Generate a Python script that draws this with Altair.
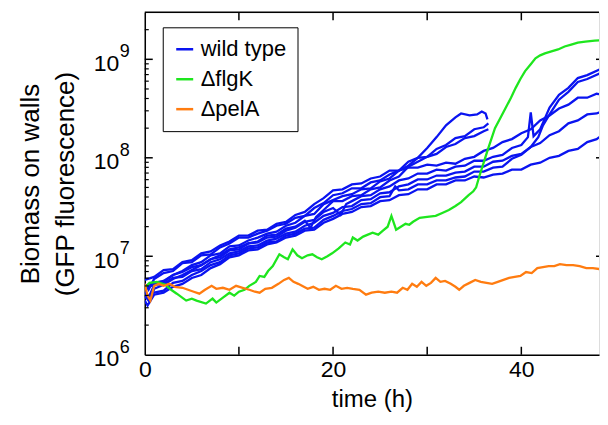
import altair as alt
import pandas as pd

# ---- data: (time h, log10 biomass) ----
WT1 = [(0,6.72),(0.4,6.66),(1,6.77),(2,6.83),(3,6.85),(4,6.93),(5,6.94),(6,7.01),(7,7.02),(8,7.09),(9,7.13),(10,7.19),(11,7.19),(12,7.23),(13,7.26),(14,7.31),(15,7.33),(16,7.39),(17,7.41),(18,7.49),(19,7.54),(20,7.62),(21,7.64),(22,7.69),(23,7.69),(24,7.75),(25,7.77),(26,7.83),(27,7.87),(28,7.96),(29,8.0),(30,8.1),(31,8.21),(32,8.33),(33,8.41),(33.6,8.45),(34.5,8.43),(35.3,8.44),(35.8,8.47),(36.2,8.45),(36.4,8.39)]
WT2 = [(0,6.64),(0.4,6.58),(1,6.71),(2,6.74),(3,6.81),(4,6.85),(5,6.91),(6,6.94),(7,7.01),(8,7.03),(9,7.1),(10,7.11),(11,7.16),(12,7.19),(13,7.23),(14,7.25),(15,7.31),(16,7.34),(17,7.41),(18,7.43),(19,7.53),(20,7.57),(21,7.61),(22,7.63),(23,7.68),(24,7.69),(25,7.76),(26,7.79),(27,7.87),(28,7.92),(29,8.0),(30,8.01),(31,8.09),(32,8.13),(33,8.2),(34,8.22),(35,8.29),(36,8.31),(36.5,8.35)]
WT3 = [(0,6.6),(0.5,6.54),(1,6.67),(2,6.71),(3,6.77),(4,6.81),(5,6.86),(6,6.91),(7,6.97),(8,7.01),(9,7.07),(10,7.09),(11,7.13),(12,7.15),(13,7.21),(14,7.22),(15,7.28),(16,7.3),(17,7.36),(17.6,7.29),(18.2,7.4),(19,7.47),(20,7.56),(21,7.56),(22,7.61),(23,7.62),(24,7.68),(25,7.7),(26,7.77),(27,7.81),(28,7.91),(29,7.96),(30,8.01),(31,8.04),(32,8.11),(33,8.14),(34,8.2),(35,8.22),(36,8.27),(36.5,8.29)]
WT4 = [(0,6.7),(1,6.73),(2,6.75),(3,6.81),(4,6.84),(5,6.89),(6,6.91),(7,6.97),(8,6.99),(9,7.06),(10,7.07),(11,7.13),(12,7.14),(13,7.19),(14,7.2),(15,7.26),(16,7.29),(17,7.35),(18,7.37),(19,7.45),(20,7.49),(20.8,7.42),(21.4,7.53),(22,7.56),(23,7.61),(24,7.62),(25,7.68),(26,7.71),(27,7.77),(28,7.79),(29,7.84),(30,7.84),(31,7.88),(32,7.87),(33,7.91),(34,7.92),(35,7.97),(36,7.97),(37,8.01),(38,8.03),(39,8.1),(40,8.13),(40.7,8.21),(41,8.46),(41.3,8.22),(42,8.29),(42.5,8.4),(43,8.51),(44,8.64),(45,8.71),(46,8.81),(47,8.84),(48.4,8.9)]
WT5 = [(0,6.58),(1,6.63),(2,6.65),(3,6.73),(4,6.75),(5,6.81),(6,6.85),(7,6.91),(8,6.94),(9,7.01),(10,7.03),(11,7.08),(12,7.09),(13,7.14),(14,7.15),(15,7.21),(16,7.23),(17,7.28),(18,7.29),(19,7.37),(20,7.41),(21,7.46),(22,7.48),(23,7.53),(24,7.54),(25,7.6),(26,7.61),(26.6,7.71),(27,7.67),(28,7.68),(29,7.73),(30,7.73),(31,7.77),(32,7.77),(33,7.8),(34,7.81),(35,7.86),(36,7.86),(37,7.9),(38,7.91),(39,7.99),(40,8.03),(41,8.11),(41.8,8.21),(42.3,8.33),(43,8.44),(44,8.59),(45,8.67),(46,8.77),(47,8.8),(48.4,8.86)]
WT6 = [(0,6.76),(1,6.79),(2,6.86),(3,6.87),(4,6.94),(5,6.96),(6,7.03),(7,7.05),(8,7.11),(9,7.15),(10,7.21),(11,7.21),(12,7.26),(13,7.27),(14,7.33),(15,7.35),(16,7.42),(17,7.45),(18,7.53),(19,7.59),(20,7.67),(21,7.68),(22,7.73),(23,7.74),(24,7.79),(25,7.81),(26,7.87),(27,7.87),(28,7.9),(29,7.9),(30,7.93),(31,7.92),(32,7.95),(33,7.94),(34,7.99),(35,8.01),(36,8.07),(37,8.1),(38,8.16),(39,8.19),(40,8.25),(41,8.29),(42,8.38),(43,8.43),(44,8.5),(45,8.54),(46,8.61),(47,8.61),(48,8.65),(49,8.64)]
WT7 = [(0,6.68),(1,6.71),(2,6.72),(3,6.78),(4,6.79),(5,6.85),(6,6.87),(7,6.94),(8,6.97),(9,7.03),(10,7.05),(11,7.1),(12,7.11),(13,7.16),(14,7.18),(15,7.23),(16,7.25),(17,7.31),(18,7.34),(19,7.41),(20,7.44),(21,7.5),(22,7.51),(23,7.57),(24,7.58),(25,7.64),(26,7.65),(27,7.71),(28,7.73),(29,7.78),(30,7.78),(31,7.82),(32,7.82),(33,7.85),(34,7.86),(35,7.91),(36,7.91),(37,7.96),(38,7.97),(39,8.02),(40,8.04),(41,8.11),(42,8.15),(43,8.23),(44,8.27),(45,8.35),(46,8.38),(47,8.44),(48,8.45),(49,8.49)]
WT8 = [(0,6.55),(0.3,6.5),(1,6.61),(2,6.63),(3,6.69),(4,6.72),(5,6.78),(6,6.81),(7,6.88),(8,6.92),(9,6.99),(10,7.01),(11,7.06),(12,7.07),(13,7.12),(14,7.14),(15,7.19),(16,7.21),(17,7.26),(18,7.27),(19,7.34),(20,7.38),(21,7.43),(22,7.45),(23,7.5),(24,7.51),(25,7.56),(26,7.57),(27,7.62),(28,7.63),(29,7.68),(30,7.68),(31,7.73),(32,7.73),(33,7.77),(34,7.77),(35,7.81),(36,7.8),(37,7.83),(38,7.84),(39,7.88),(40,7.88),(41,7.93),(42,7.95),(43,8.0),(44,8.02),(45,8.07),(46,8.09),(47,8.16),(48,8.19),(49,8.26)]

FLGK = [(0,6.68),(0.5,6.73),(1.3,6.74),(2.2,6.71),(2.8,6.66),(3.4,6.62),(4.4,6.55),(5.0,6.57),(5.5,6.55),(6.5,6.52),(7.2,6.57),(7.6,6.53),(8.3,6.58),(9.0,6.63),(9.5,6.6),(10,6.64),(10.6,6.66),(11.1,6.70),(11.8,6.74),(12.2,6.8),(12.7,6.79),(13.1,6.85),(13.6,6.9),(14.3,7.02),(14.8,6.99),(15.2,6.97),(15.7,7.07),(16.2,7.01),(16.7,6.98),(17.3,7.01),(17.8,7.02),(18.3,6.99),(18.8,6.97),(19.4,7.0),(19.9,7.03),(20.6,7.08),(21.3,7.14),(21.8,7.12),(22.1,7.19),(22.6,7.16),(23.2,7.2),(23.7,7.22),(24.2,7.24),(24.8,7.22),(25.3,7.26),(25.8,7.3),(26.2,7.41),(26.7,7.27),(27.2,7.3),(27.7,7.33),(28.1,7.32),(28.5,7.35),(29.2,7.39),(30.0,7.4),(30.9,7.41),(31.6,7.44),(32.3,7.47),(33.0,7.51),(33.6,7.55),(34.4,7.62),(34.9,7.66),(35.2,7.7),(35.5,7.8),(36.0,7.95),(36.5,8.1),(37.2,8.3),(37.8,8.41),(38.3,8.5),(38.9,8.61),(39.4,8.71),(39.9,8.8),(40.4,8.88),(41.0,8.95),(41.5,9.01),(42.0,9.04),(42.5,9.06),(43.2,9.08),(43.9,9.1),(44.6,9.13),(45.3,9.15),(46.0,9.17),(46.8,9.18),(47.8,9.19),(49.2,9.2)]

PELA = [(0,6.72),(0.3,6.6),(0.6,6.55),(1.0,6.7),(1.5,6.72),(2.0,6.7),(2.6,6.72),(3.2,6.69),(4.0,6.68),(4.6,6.66),(5.2,6.64),(5.8,6.62),(6.4,6.66),(7.1,6.7),(7.6,6.67),(8.3,6.68),(9.0,6.66),(9.7,6.7),(10.4,6.68),(11.1,6.66),(11.7,6.64),(12.2,6.63),(12.8,6.67),(13.5,6.68),(14.2,6.72),(14.8,6.76),(15.3,6.78),(15.8,6.74),(16.3,6.72),(16.7,6.7),(17.3,6.67),(17.9,6.69),(18.5,6.66),(19.1,6.67),(19.7,6.66),(20.3,6.7),(20.9,6.67),(21.5,6.68),(22.1,6.67),(22.8,6.66),(23.5,6.61),(24.1,6.63),(24.8,6.64),(25.5,6.63),(26.2,6.64),(26.8,6.63),(27.4,6.68),(27.9,6.66),(28.4,6.72),(28.9,6.69),(29.4,6.74),(29.9,6.7),(30.4,6.73),(30.9,6.78),(31.4,6.74),(31.9,6.75),(32.5,6.72),(33.0,6.69),(33.4,6.66),(33.9,6.7),(34.5,6.73),(35.1,6.76),(35.7,6.74),(36.3,6.73),(36.9,6.72),(37.5,6.74),(38.1,6.76),(38.7,6.78),(39.3,6.79),(39.9,6.8),(40.5,6.84),(41.1,6.83),(41.7,6.88),(42.3,6.89),(42.9,6.9),(43.5,6.9),(44.1,6.92),(44.8,6.91),(45.5,6.91),(46.2,6.9),(46.9,6.88),(47.6,6.88),(48.3,6.87),(49.2,6.86)]

STRAINS = ["wild type", "\u0394flgK", "\u0394pelA"]
COLORS = ["#0a14f0", "#1ee61e", "#ff7c10"]

X_TICKS = [10, 20, 30, 40]
X_LABELS = [0, 20, 40]
Y_DECADES = [1e6, 1e7, 1e8, 1e9]
Y_EXPONENTS = ["6", "7", "8", "9"]
Y_MINOR = [m * 10 ** k for k in (6, 7, 8) for m in range(2, 10)] + [2e9]

series = [("wt1", STRAINS[0], WT1), ("wt2", STRAINS[0], WT2), ("wt3", STRAINS[0], WT3),
          ("wt4", STRAINS[0], WT4), ("wt5", STRAINS[0], WT5), ("wt6", STRAINS[0], WT6),
          ("wt7", STRAINS[0], WT7), ("wt8", STRAINS[0], WT8),
          ("flgk", STRAINS[1], FLGK), ("pela", STRAINS[2], PELA)]
rows = []
for rep, strain, pts in series:
    for i, (t, lv) in enumerate(pts):
        rows.append({"rep": rep, "strain": strain, "t": t, "v": 10 ** lv, "i": i})
df = pd.DataFrame(rows)

W, H = 455, 343
FONT = "Liberation Sans"
xs = alt.Scale(domain=[0, 48.25], nice=False, zero=False)
ys = alt.Scale(type="log", domain=[1e6, 3e9], nice=False)

XAX = alt.Axis(
    values=X_LABELS, ticks=False, grid=False, domainColor="black", domainWidth=1.5,
    labelFontSize=23, labelPadding=4, labelColor="black", labelFlush=False, labelFont=FONT,
    title="time (h)", titleFontSize=24, titleFontWeight="normal", titlePadding=6,
    titleColor="black", titleFont=FONT)
YAX = alt.Axis(
    values=Y_DECADES, labelExpr="'10'", ticks=False, grid=False, domainColor="black",
    domainWidth=1.5, labelFontSize=23, labelPadding=26, labelColor="black", labelOffset=4,
    labelFont=FONT, title=["Biomass on walls", "(GFP fluorescence)"], titleFontSize=26,
    titleFontWeight="normal", titleLineHeight=35, titlePadding=15, titleColor="black",
    titleFont=FONT)

X = alt.X("t:Q", scale=xs, axis=XAX)
Y = alt.Y("v:Q", scale=ys, axis=YAX)

lines = alt.Chart(df).mark_line(strokeWidth=2.3, clip=True).encode(
    x=X, y=Y,
    color=alt.Color("strain:N", scale=alt.Scale(domain=STRAINS, range=COLORS),
                    legend=alt.Legend(title=None, orient="none", legendX=18, legendY=15,
                                      strokeColor="black", fillColor="white", padding=11,
                                      symbolType="stroke", symbolSize=289, symbolStrokeWidth=2.5,
                                      labelFontSize=22, labelOffset=5, rowPadding=8,
                                      labelFont=FONT, labelColor="black")),
    detail="rep:N",
    order="i:Q",
)

xt = pd.DataFrame({"t": X_TICKS})
ymaj = pd.DataFrame({"v": Y_DECADES[1:]})
ymin = pd.DataFrame({"v": Y_MINOR})
ex = pd.DataFrame({"v": Y_DECADES, "e": Y_EXPONENTS})

tick_style = dict(color="black", strokeWidth=1.5)
bx = alt.Chart(xt).mark_rule(**tick_style).encode(x=X, y=alt.value(H), y2=alt.value(H - 8))
tx = alt.Chart(xt).mark_rule(**tick_style).encode(x=X, y=alt.value(0), y2=alt.value(8))
ly = alt.Chart(ymaj).mark_rule(**tick_style).encode(y=Y, x=alt.value(0), x2=alt.value(8))
lym = alt.Chart(ymin).mark_rule(color="black", strokeWidth=1.2).encode(
    y=Y, x=alt.value(0), x2=alt.value(4))
ry = alt.Chart(ymaj).mark_rule(**tick_style).encode(y=Y, x=alt.value(W - 3), x2=alt.value(W))
top = alt.Chart(pd.DataFrame({"a": [0]})).mark_rule(**tick_style).encode(
    x=alt.value(0), x2=alt.value(W), y=alt.value(0))
exps = alt.Chart(ex).mark_text(align="left", baseline="middle", dy=-7, fontSize=18,
                               font=FONT, color="black").encode(
    y=Y, x=alt.value(-25), text="e:N")

chart = alt.layer(lines, bx, tx, ly, lym, ry, top, exps).properties(
    width=W, height=H, padding={"left": 9, "top": 3, "right": 0, "bottom": 0}
).configure_view(stroke=None).configure(font=FONT)

chart.save("out.html", embed_options={"renderer": "svg", "actions": False})
